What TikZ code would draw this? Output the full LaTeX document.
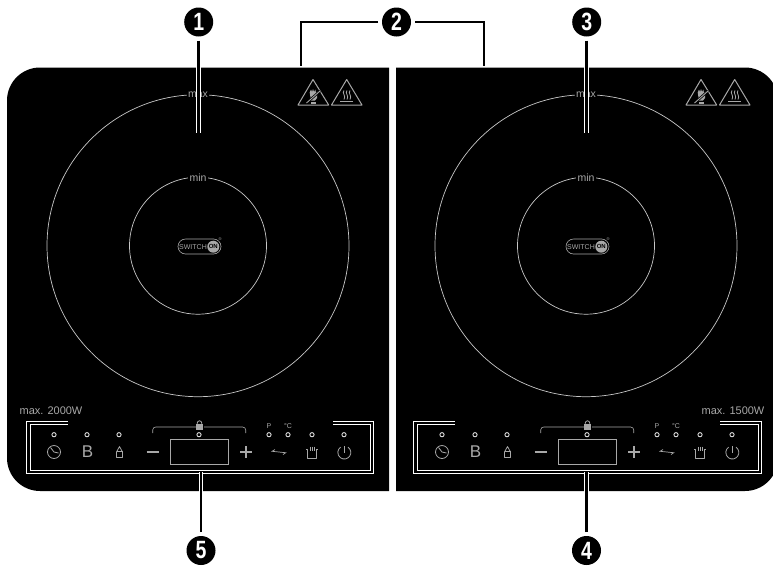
\documentclass[tikz,border=0pt]{standalone}
\usepackage{fontspec}
\setmainfont{Liberation Sans}
\definecolor{iconGray}{HTML}{A8A8A8}
\tikzset{
  plate/.style={fill=black, draw=none},
  ring/.style={draw=white!78!black, line width=0.7pt},
  ringLabel/.style={fill=black, text=iconGray, inner sep=1.4pt, font=\fontsize{10.5}{11}\selectfont},
  icon/.style={draw=iconGray, line width=0.8pt},
  led/.style={draw=white!85!black, line width=0.9pt},
  tinyLabel/.style={text=iconGray, inner sep=0pt, font=\fontsize{7}{7}\selectfont},
  powerLabel/.style={text=iconGray, inner sep=0pt, font=\fontsize{11}{12}\selectfont},
  badge/.style={circle, fill=black, text=white, minimum size=29pt, inner sep=0pt, outer sep=4pt, font=\fontsize{25}{25}\bfseries\selectfont},
  leader/.style={draw=white, line width=0.9pt, double=black, double distance=2.9pt, line join=miter}
}
\newcommand{\narrownum}[1]{\scalebox{0.78}[1]{#1}}
\begin{document}
\begin{tikzpicture}[x=1pt, y=-1pt]
    \clip (0,0) rectangle (773,568);

    % Cooking plates
    \fill[plate] (389,67.5) -- (40,67.5) arc (-90:-180:33) -- (7,458) arc (180:90:33) -- (389,491) -- cycle;
    \fill[plate] (396,67.5) -- (745,67.5) arc (-90:0:33) -- (778,458) arc (0:90:33) -- (396,491) -- cycle;

    % Parts shared by both plates
    \foreach \plate in {0,388} {
      \begin{scope}[shift={(\plate,0)}]
        % Zone rings
        \draw[ring] (198,245.7) circle (151);
        \draw[ring] (198,245.7) circle (68.5);
        \node[ringLabel] (max\plate) at (198,95) {max};
        \node[ringLabel] (min\plate) at (198,177.5) {min};

        % Logo
        \draw[icon, line width=0.6pt, rounded corners=7.5pt] (178,239) rectangle (221,254);
        \fill[iconGray] (213.3,246.7) circle (6);
        \node[inner sep=0pt, text=iconGray, font=\fontsize{7}{7}\selectfont] (switch\plate) at (193,246.7) {SWITCH};
        \node[inner sep=0pt, text=black, font=\fontsize{6}{7}\bfseries\selectfont] (on\plate) at (213.3,246.7) {ON};
        \node[inner sep=0pt, text=iconGray, font=\fontsize{4}{4}\selectfont] (reg\plate) at (220,239.5) {®};

        % Warning triangles
        \draw[icon, line join=round, line width=1pt] (298,105) -- (313,79.5) -- (328.7,105) -- cycle;
        \draw[icon, line join=round, line width=1pt] (331.5,105) -- (346.7,79.5) -- (362,105) -- cycle;
        % Hand
        \fill[iconGray] (309.7,92.5) -- (311,89.5) -- (312,92) -- (313,89) -- (314,92) -- (315.3,89.5) -- (316,93) -- (317.5,91.5) -- (317,98) -- (315,100.5) -- (311,100.5) -- cycle;
        \draw[black, line width=2.4pt] (306.5,103) -- (320,91);
        \draw[icon, line width=0.9pt] (306.5,103) -- (320,91);
        \fill[iconGray] (310.5,102) rectangle (316,103.5);
        % Hot surface
        \foreach \x in {344,347,350} {
          \draw[icon, line width=0.8pt] (\x,90.5) .. controls (\x-2.5,93) and (\x+2.5,96) .. (\x,99.5);
        }
        \draw[icon, line width=1.2pt] (340.3,101.7) -- (353,101.7);

        % Indicator lights
        \foreach \x in {54,87,119,199,269,288,312,344} {
          \draw[led] (\x,434.7) circle (2.1);
        }

        % Timer
        \draw[icon] (54,452) circle (6.5);
        \draw[icon] (50.5,447.5) -- (54,452) -- (58.5,453);
        % Boost
        \node[inner sep=0pt, text=iconGray, font=\fontsize{17}{17}\selectfont] (boost\plate) at (87.5,452) {B};
        % Bottle
        \draw[icon, line join=round] (116.5,452) -- (119.5,446.5) -- (122.5,452) -- (122.5,457.5) -- (116.5,457.5) -- cycle;
        \draw[icon, line width=0.6pt] (116.5,451) -- (122.5,451);
        % Minus, display, plus
        \draw[icon, line width=2pt] (146.7,452) -- (158.5,452);
        \draw[icon, line width=1pt] (170.3,439) rectangle (228.7,464);
        \draw[icon, line width=2pt] (240,452) -- (251.7,452);
        \draw[icon, line width=2pt] (245.8,446.2) -- (245.8,457.8);
        % Child lock
        \draw[icon, line width=0.6pt, rounded corners=3pt] (152.7,433) -- (152.7,427) -- (245.7,427) -- (245.7,433);
        \fill[black] (195.5,420) rectangle (203.5,430);
        \draw[icon, fill=iconGray, line width=0.5pt] (196.3,424.5) rectangle (202.7,429);
        \draw[icon] (197.3,424.5) -- (197.3,423) arc (180:360:2.2) -- (201.7,424.5);
        % Function labels
        \node[tinyLabel] (power\plate) at (269,426) {P};
        \node[tinyLabel] (temp\plate) at (288,426) {°C};
        % Function arrows
        \draw[icon, line width=0.7pt] (275,449.5) -- (272,451.3) -- (285.7,452.7) -- (283,454.5);
        % Pot
        \draw[icon, line join=round] (306,449.5) -- (307.3,449.5) -- (307.3,458) -- (316.7,458) -- (316.7,449.5) -- (318,449.5);
        \foreach \x in {310,312,314} {
          \draw[icon, line width=0.6pt] (\x,446.5) -- (\x,451);
        }
        % Power button
        \draw[icon] (344.3,452.5) ++(-55:6.5) arc (-55:235:6.5);
        \draw[icon] (344.3,446) -- (344.3,453);
      \end{scope}
    }

    % Rated power
    \node[powerLabel] (ratedL) at (51,411) {max. 2000W};
    \node[powerLabel] (ratedR) at (733,411) {max. 1500W};

    % Control panel frames
    \draw[leader] (68,423) -| (28.5,472) -| (372,423) -- (333,423);
    \draw[leader] (455,423) -| (415.5,472) -| (760,423) -- (720,423);

    % Numbered callouts
    \node[badge] (badgeOne) at (198.7,22) {\narrownum{1}};
    \node[badge] (badgeTwo) at (396.5,22) {\narrownum{2}};
    \node[badge] (badgeThree) at (586.7,22) {\narrownum{3}};
    \node[badge] (badgeFour) at (586.5,550.5) {\narrownum{4}};
    \node[badge] (badgeFive) at (201,550.5) {\narrownum{5}};

    % Free leader ends
    \coordinate (endOne) at (198.7,132.7);
    \coordinate (endTwoL) at (301,66);
    \coordinate (endTwoR) at (484,66);
    \coordinate (endThree) at (586.7,132.7);
    \coordinate (endFour) at (586.5,472);
    \coordinate (endFive) at (201,472);

    % Leaders
    \draw[leader] (badgeOne) -- (endOne);
    \draw[leader] (badgeTwo) -| (endTwoL);
    \draw[leader] (badgeTwo) -| (endTwoR);
    \draw[leader] (badgeThree) -- (endThree);
    \draw[leader] (badgeFour) -- (endFour);
    \draw[leader] (badgeFive) -- (endFive);
\end{tikzpicture}
\end{document}
